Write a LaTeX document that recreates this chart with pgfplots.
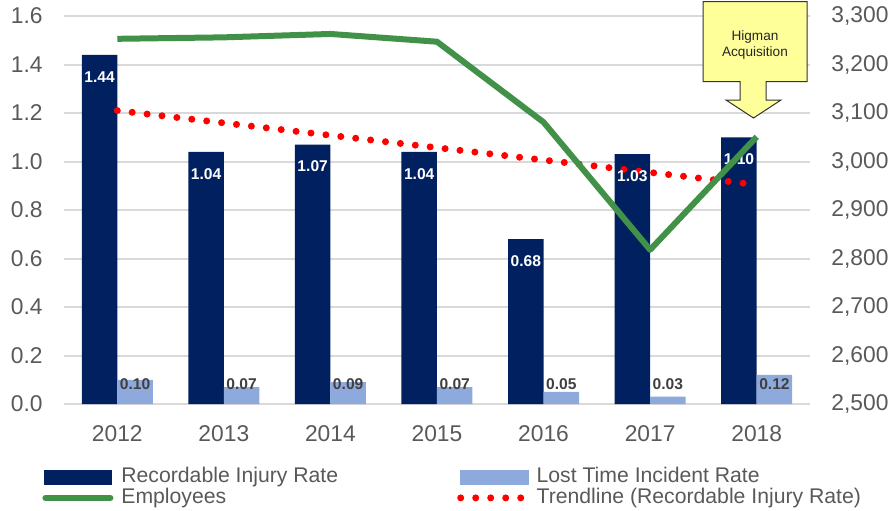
\documentclass[border=0pt]{standalone}
\usepackage{fontspec}
\setmainfont{Liberation Sans}
\usepackage{pgfplots}
\usepackage{pgfplotstable}
\pgfplotsset{compat=1.18}
\definecolor{navy}{HTML}{002060}
\definecolor{lightblue}{HTML}{8EA9DB}
\definecolor{empgreen}{RGB}{66,145,72}
\definecolor{gridgray}{HTML}{D9D9D9}
\definecolor{txtgray}{HTML}{595959}
\definecolor{lblgray}{HTML}{404040}
\definecolor{callyellow}{HTML}{FFFF99}

\pgfplotstableread{
x rir  ltir emp  trend
0 1.44 0.10 3253 1.210
1 1.04 0.07 3256 1.159
2 1.07 0.09 3263 1.108
3 1.04 0.07 3247 1.057
4 0.68 0.05 3081 1.006
5 1.03 0.03 2818 0.955
6 1.10 0.12 3051 0.904
}\data

\begin{document}
\begin{tikzpicture}
\begin{axis}[
  scale only axis, width=373pt, height=194pt,
  xmin=-0.5, xmax=6.5, ymin=0, ymax=1.6,
  xtick={0,1,2,3,4,5,6},
  xticklabels={2012,2013,2014,2015,2016,2017,2018},
  ytick distance=0.2,
  ymajorgrids, grid style={gridgray, line width=1pt},
  axis x line*=bottom, axis y line*=left,
  y axis line style={draw=none},
  x axis line style={gridgray, line width=1pt},
  major tick length=0pt, tick style={draw=none},
  ticklabel style={font=\fontsize{11.4}{13}\selectfont, text=txtgray},
  xticklabel style={anchor=base, yshift=-18.5pt},
  yticklabel style={anchor=east, inner sep=0pt, xshift=-10.5pt},
  /pgf/number format/.cd, fixed, fixed zerofill, precision=1, assume math mode=true,
  /pgfplots/.cd,
  clip=false,
]
\addplot[ybar, bar width=17.75pt, bar shift=-8.875pt, fill=navy, draw=none] table[x=x,y=rir]{\data};
\addplot[ybar, bar width=17.75pt, bar shift=8.875pt, fill=lightblue, draw=none] table[x=x,y=ltir]{\data};
\addplot[red, line width=3.5pt, line cap=round, dash pattern=on 0pt off 7.5pt] table[x=x,y=trend]{\data};
% labels on dark bars
\addplot[draw=none, mark=none,
  nodes near coords={\pgfmathprintnumber[fixed,fixed zerofill,precision=2,assume math mode=true]{\pgfplotspointmeta}},
  every node near coord/.append style={anchor=center, xshift=-8.875pt, yshift=-11pt, text=white, font=\bfseries\fontsize{7.8}{9}\selectfont}]
  table[x=x,y=rir]{\data};
% labels on light bars
\addplot[draw=none, mark=none, point meta=explicit symbolic,
  nodes near coords,
  every node near coord/.append style={anchor=center, xshift=8.875pt, yshift=0pt, text=lblgray, font=\bfseries\fontsize{7.8}{9}\selectfont}]
  coordinates {(0,0.08) [0.10] (1,0.08) [0.07] (2,0.08) [0.09] (3,0.08) [0.07] (4,0.08) [0.05] (5,0.08) [0.03] (6,0.08) [0.12]};
\end{axis}

\begin{axis}[
  scale only axis, width=373pt, height=194pt,
  xmin=-0.5, xmax=6.5, ymin=2500, ymax=3300,
  ytick distance=100,
  axis y line*=right, hide x axis,
  y axis line style={draw=none},
  major tick length=0pt, tick style={draw=none},
  yticklabel style={font=\fontsize{11.4}{13}\selectfont, text=txtgray, anchor=west, inner sep=0pt, xshift=10.5pt},
  /pgf/number format/.cd, 1000 sep={,}, assume math mode=true,
  /pgfplots/.cd,
  clip=false,
  legend columns=2,
  legend cell align=left,
  legend style={at={(0,0)}, anchor=north west, xshift=-14pt, yshift=-29pt,
    draw=none, fill=none, font=\fontsize{10.6}{12}\selectfont, text=txtgray,
    nodes={inner sep=0pt, text height=8pt, text depth=2.5pt},
    /tikz/column 1/.style={column sep=4pt},
    /tikz/column 2/.style={column sep=59.5pt},
    /tikz/column 3/.style={column sep=4pt}},
]
\addlegendimage{legend image code/.code={\fill[navy] (1pt,-3.5pt) rectangle (34.5pt,3.5pt);}}
\addlegendentry{Recordable Injury Rate}
\addlegendimage{legend image code/.code={\fill[lightblue] (1.5pt,-3.5pt) rectangle (35.5pt,3.5pt);}}
\addlegendentry{Lost Time Incident Rate}
\addplot[empgreen, line width=3pt, line join=round,
  legend image code/.code={\draw[empgreen, line width=3pt, line cap=round] (1.5pt,0pt) -- (34pt,0pt);}]
  table[x=x,y=emp]{\data};
\addlegendentry{Employees}
\addlegendimage{legend image code/.code={\draw[red, line width=3.5pt, line cap=round, dash pattern=on 0pt off 7.5pt] (1.75pt,0pt) -- (32pt,0pt);}}
\addlegendentry{Trendline (Recordable Injury Rate)}
\end{axis}

\draw[fill=callyellow, draw=black!80, line width=0.5pt]
  (319.5pt,201.25pt) -- (371.5pt,201.25pt) -- (371.5pt,161.25pt) -- (351pt,161.25pt)
  -- (351pt,152pt) -- (358.5pt,152pt) -- (344.75pt,143pt) -- (331pt,152pt)
  -- (338pt,152pt) -- (338pt,161.25pt) -- (319.5pt,161.25pt) -- cycle;
\node[align=center, font=\fontsize{6.8}{8.3}\selectfont, text=black!85] at (345.5pt,179.5pt) {Higman\\Acquisition};

\pgfresetboundingbox
\useasboundingbox (-32pt,-53pt) rectangle (413.5pt,202pt);
\end{tikzpicture}
\end{document}
